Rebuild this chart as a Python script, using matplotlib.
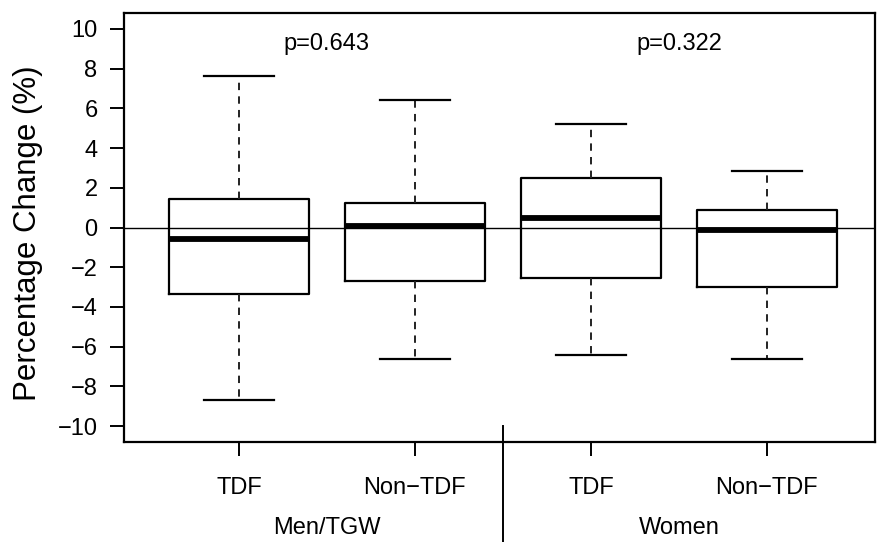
import matplotlib
matplotlib.use("Agg")
import matplotlib.pyplot as plt

plt.rcParams['font.family'] = ['Liberation Sans', 'DejaVu Sans']

# Data
tick_labels = ["TDF", "Non\u2212TDF", "TDF", "Non\u2212TDF"]
group_labels = ["Men/TGW", "Women"]
p_values = ["p=0.643", "p=0.322"]
whisker_low = [-8.7, -6.6, -6.4, -6.6]
q1 = [-3.37, -2.7, -2.52, -3.0]
medians = [-0.6, 0.1, 0.5, -0.15]
q3 = [1.46, 1.22, 2.48, 0.86]
whisker_high = [7.64, 6.4, 5.2, 2.86]

positions = [1, 2, 3, 4]

fig = plt.figure(figsize=(8.79, 5.42), dpi=100)
ax = fig.add_axes([124/879, 1-442/542, (875-124)/879, (442-13)/542])

stats = []
for i in range(4):
    stats.append(dict(whislo=whisker_low[i], q1=q1[i], med=medians[i], q3=q3[i],
                      whishi=whisker_high[i], fliers=[]))

ax.bxp(stats, positions=positions, widths=0.8, showfliers=False,
       boxprops=dict(color='black', linewidth=1.6),
       medianprops=dict(color='black', linewidth=4.2, solid_capstyle='butt'),
       whiskerprops=dict(color='#222222', linewidth=1.4, linestyle=(0, (3.8, 3.2))),
       capprops=dict(color='black', linewidth=1.6),
       capwidths=0.4, zorder=3)

ax.axhline(0, color='black', linewidth=1.0, zorder=2)

ax.set_xlim(0.347, 4.614)
ax.set_ylim(-10.8, 10.8)
ax.set_yticks(range(-10, 11, 2))
ax.set_yticklabels([("\u2212" + str(abs(v))) if v < 0 else str(v) for v in range(-10, 11, 2)])
ax.set_xticks(positions)
ax.set_xticklabels(tick_labels)
ax.tick_params(axis='both', direction='out', length=10, width=1.4, labelsize=17, colors='black')
ax.tick_params(axis='x', pad=15)
ax.tick_params(axis='y', pad=9)

for s in ax.spines.values():
    s.set_linewidth(1.6)

fig.text(28.5/879, 1-233/542, "Percentage Change (%)", rotation=90,
         ha='center', va='center', fontsize=22.5)

# p-values
ax.text(1.5, 9.25, p_values[0], ha='center', va='center', fontsize=17)
ax.text(3.5, 9.25, p_values[1], ha='center', va='center', fontsize=17)

# group labels
for i, g in enumerate(group_labels):
    fig.text((327 + i*352)/879, 1-528/542, g, ha='center', va='center', fontsize=17)

# divider
ax.plot([2.5, 2.5], [-10, -17], color='black', linewidth=1.4, clip_on=False)

fig.savefig("out.png", dpi=100)
